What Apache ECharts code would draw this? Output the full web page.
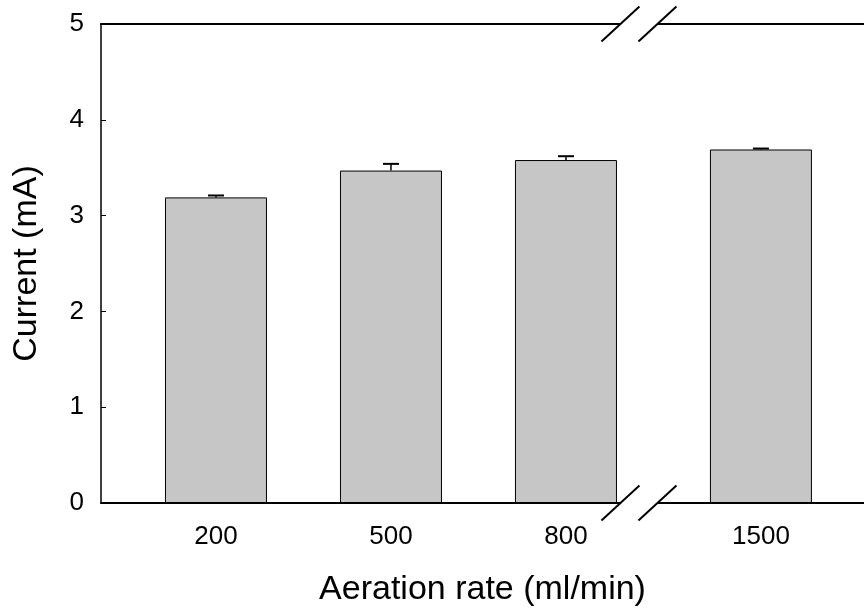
<!DOCTYPE html>
<html><head><meta charset="utf-8">
<script src="https://cdn.jsdelivr.net/npm/echarts@6/dist/echarts.min.js"></script>
<style>html,body{margin:0;padding:0;background:#fff}#c{width:864px;height:609px}</style>
</head><body><div id="c"></div>
<script>
const categories = ['200', '500', '800', '1500'];
const currentValues = [3.19, 3.47, 3.58, 3.69];
const currentErrors = [0.02, 0.07, 0.04, 0.01];
const yTicks = [0, 1, 2, 3, 4, 5];

// layout: categories sit at index positions; the ones after the axis break get an extra offset
const breakAfterIndex = 2;
const breakExtra = 0.114;
const breakPos = 2.417;
const xPos = categories.map((c, i) => i + (i > breakAfterIndex ? breakExtra : 0));

const chart = echarts.init(document.getElementById('c'), null, {renderer: 'canvas'});
const font = '"Liberation Sans", Arial, sans-serif';

const barData = currentValues.map((v, i) => [xPos[i], v]);
const errData = currentValues.map((v, i) => [xPos[i], v, currentErrors[i]]);

chart.setOption({
  animation: false,
  backgroundColor: '#fff',
  grid: {left: 101, top: 24, right: 0, bottom: 106, outerBoundsMode: 'none', containLabel: false},
  xAxis: [{
    type: 'value', min: -0.657, max: 3.703, position: 'bottom',
    name: 'Aeration rate (ml/min)', nameLocation: 'middle', nameGap: 70,
    nameTextStyle: {fontFamily: font, fontSize: 34, color: '#000'},
    axisLine: {show: true, onZero: false, lineStyle: {color: '#000', width: 2}},
    axisTick: {show: false}, splitLine: {show: false},
    axisLabel: {
      show: true, margin: 21, fontFamily: font, fontSize: 26, color: '#000',
      customValues: xPos,
      formatter: (v) => { const i = xPos.findIndex(p => Math.abs(p - v) < 1e-6); return i >= 0 ? categories[i] : ''; }
    }
  }, {
    type: 'value', min: -0.657, max: 3.703, position: 'top',
    axisLine: {show: true, onZero: false, lineStyle: {color: '#000', width: 2}},
    axisTick: {show: false}, axisLabel: {show: false}, splitLine: {show: false}
  }],
  yAxis: {
    type: 'value', min: 0, max: 5, interval: 1,
    name: 'Current (mA)', nameLocation: 'middle', nameGap: 57,
    nameTextStyle: {fontFamily: font, fontSize: 34, color: '#000'},
    axisLine: {show: true, onZero: false, lineStyle: {color: '#000', width: 1.5}},
    axisTick: {show: true, inside: true, length: 5, lineStyle: {color: '#000'}},
    axisLabel: {margin: 17, fontFamily: font, fontSize: 26, color: '#000',
      formatter: (v) => yTicks.includes(v) ? String(v) : ''},
    splitLine: {show: false}
  },
  series: [{
    type: 'bar', data: barData, barWidth: 102,
    itemStyle: {color: '#c6c6c6', borderColor: '#000', borderWidth: 1}
  }, {
    type: 'custom', data: errData, z: 5,
    renderItem: function (params, api) {
      const x = api.value(0), y = api.value(1), e = api.value(2);
      const p0 = api.coord([x, y]);
      const p1 = api.coord([x, y + e]);
      const hw = 8;
      return {type: 'group', children: [
        {type: 'line', shape: {x1: p0[0], y1: p0[1], x2: p1[0], y2: p1[1]}, style: {stroke: '#000', lineWidth: 1.5}},
        {type: 'line', shape: {x1: p1[0] - hw, y1: p1[1], x2: p1[0] + hw, y2: p1[1]}, style: {stroke: '#000', lineWidth: 2}}
      ]};
    }
  }]
});

// axis-break marks, placed from the axis scale
const bx = chart.convertToPixel({xAxisIndex: 0}, breakPos);
const yBottom = chart.convertToPixel({yAxisIndex: 0}, 0);
const yTop = chart.convertToPixel({yAxisIndex: 0}, 5);
function breakMark(yc) {
  const half = 18.5, dx = 19, dy = 17.5;
  return [
    {type: 'rect', z: 100, shape: {x: bx - half, y: yc - 3, width: 2 * half, height: 6}, style: {fill: '#fff'}},
    {type: 'line', z: 101, shape: {x1: bx - half - dx, y1: yc + dy, x2: bx - half + dx, y2: yc - dy}, style: {stroke: '#000', lineWidth: 2}},
    {type: 'line', z: 101, shape: {x1: bx + half - dx, y1: yc + dy, x2: bx + half + dx, y2: yc - dy}, style: {stroke: '#000', lineWidth: 2}}
  ];
}
chart.setOption({graphic: {elements: breakMark(yBottom).concat(breakMark(yTop))}});
</script>
</body></html>
